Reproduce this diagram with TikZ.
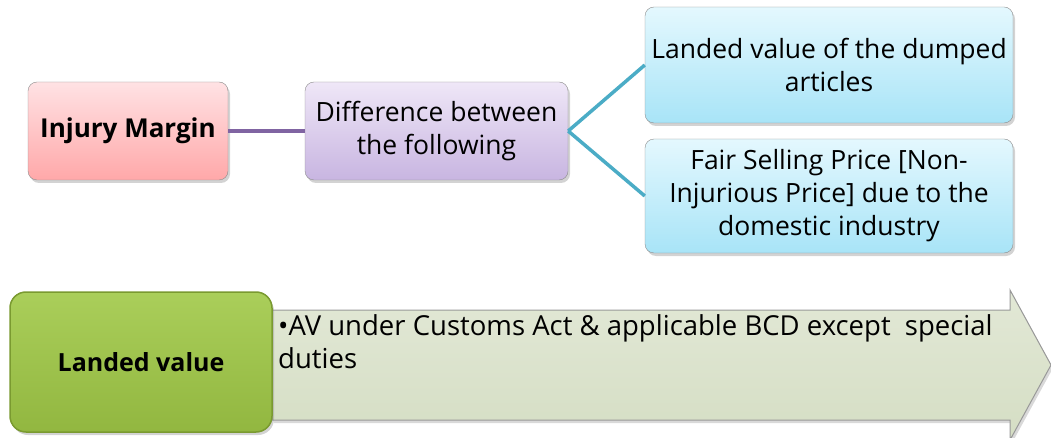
\documentclass[tikz,border=0pt]{standalone}
\usepackage{fontspec}
\setmainfont{Open Sans}
\usetikzlibrary{shadows}
\definecolor{pinktop}{HTML}{FFE2E4}
\definecolor{pinkbot}{HTML}{FFA8A9}
\definecolor{lilactop}{HTML}{EFE7F7}
\definecolor{lilacbot}{HTML}{C8B5E1}
\definecolor{cyantop}{HTML}{E4F8FE}
\definecolor{cyanbot}{HTML}{A8E4F7}
\definecolor{greentop}{HTML}{AACE5A}
\definecolor{greenbot}{HTML}{92B740}
\definecolor{greenedge}{HTML}{7A9A30}
\definecolor{arrowtop}{HTML}{E2E8D6}
\definecolor{arrowbot}{HTML}{D5DEC4}
\definecolor{purplelink}{HTML}{8064A2}
\definecolor{teallink}{HTML}{4BACC6}
\tikzset{
  box/.style={draw=black!45,rounded corners=9pt,align=center,
    drop shadow={shadow xshift=2pt,shadow yshift=-3pt,opacity=0.35},
    font=\fontsize{26.5}{33}\selectfont,inner sep=2pt},
  pinkbox/.style={box,top color=pinktop,bottom color=pinkbot},
  lilacbox/.style={box,top color=lilactop,bottom color=lilacbot},
  cyanbox/.style={box,top color=cyantop,bottom color=cyanbot},
  greenbox/.style={box,draw=greenedge,line width=1.5pt,rounded corners=16pt,
    top color=greentop,bottom color=greenbot},
  purpleline/.style={draw=purplelink,line width=4pt},
  tealline/.style={draw=teallink,line width=3.5pt}
}
\begin{document}
\begin{tikzpicture}[x=1pt,y=-1pt]
\useasboundingbox (0,0) rectangle (1051,438);
\node[pinkbox,minimum width=200pt,minimum height=98pt,font=\fontsize{26}{33}\selectfont\bfseries] (injury) at (128,131){Injury Margin};
\node[lilacbox,minimum width=263pt,minimum height=98pt] (diff) at (436.5,131){Difference between\\the following};
\node[cyanbox,minimum width=368pt,minimum height=116pt] (landed) at (829,65){Landed value of the dumped\\articles};
\node[cyanbox,minimum width=368pt,minimum height=114pt] (fair) at (829,196){Fair Selling Price [Non-\\Injurious Price] due to the\\domestic industry};
\draw[purpleline] (injury) -- (diff);
\draw[tealline] (diff.east) -- (landed.west);
\draw[tealline] (diff.east) -- (fair.west);
% arrow
\draw[draw=black!40,line width=1pt,top color=arrowtop,bottom color=arrowbot,
  drop shadow={shadow xshift=2pt,shadow yshift=-3pt,opacity=0.3}]
  (272,310) -- (1010,310) -- (1010,290) -- (1051,365) -- (1010,440) -- (1010,420) -- (272,420) -- cycle;
\node[anchor=north west,align=left,font=\fontsize{27.5}{33}\selectfont,inner sep=0pt] (avtext) at (278,314){•AV under Customs Act \& applicable BCD except\ \ special\\duties};
\node[greenbox,minimum width=262pt,minimum height=140pt,font=\fontsize{25}{32}\selectfont\bfseries] (lv) at (141,362){Landed value};
\end{tikzpicture}
\end{document}
